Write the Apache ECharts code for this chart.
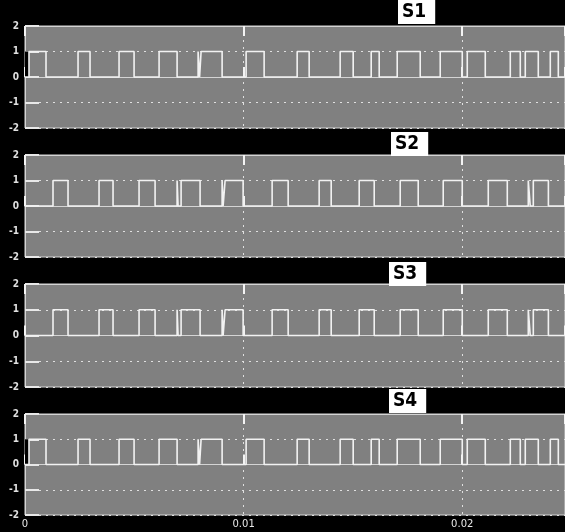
<!DOCTYPE html>
<html><head><meta charset="utf-8">
<script src="https://cdn.jsdelivr.net/npm/echarts@6/dist/echarts.min.js"></script>
<style>html,body{margin:0;padding:0;background:#000}#c{width:565px;height:532px}</style>
</head><body><div id="c"></div>
<script>
// Pulse intervals [rise, fall] in seconds for each switching signal
const s1Pulses = [[0.000183,0.000961],[0.002426,0.002975],[0.004302,0.004989],[0.006133,0.006957],[0.007918,0.007986],[0.008055,0.009016],[0.010114,0.010938],[0.012449,0.012998],[0.014416,0.015011],[0.015835,0.016201],[0.017025,0.018078],[0.018993,0.020000],[0.020229,0.021053],[0.022197,0.022654],[0.022883,0.023478],[0.024027,0.024394]];
const s2Pulses = [[0.001281,0.001968],[0.003387,0.004027],[0.005217,0.005950],[0.006957,0.007002],[0.007140,0.008009],[0.009016,0.009062],[0.009153,0.009977],[0.011304,0.012037],[0.013455,0.014005],[0.015286,0.015973],[0.017162,0.017986],[0.019130,0.020000],[0.021190,0.022060],[0.023020,0.023110],[0.023250,0.023940]];
const s3Pulses = [[0.001281,0.001968],[0.003387,0.004027],[0.005217,0.005950],[0.006957,0.007002],[0.007140,0.008009],[0.009016,0.009062],[0.009153,0.009977],[0.011304,0.012037],[0.013455,0.014005],[0.015286,0.015973],[0.017162,0.017986],[0.019130,0.020000],[0.021190,0.022060],[0.023020,0.023110],[0.023250,0.023940]];
const s4Pulses = [[0.000183,0.000961],[0.002426,0.002975],[0.004302,0.004989],[0.006133,0.006957],[0.007918,0.007986],[0.008055,0.009016],[0.010114,0.010938],[0.012449,0.012998],[0.014416,0.015011],[0.015835,0.016201],[0.017025,0.018078],[0.018993,0.020000],[0.020229,0.021053],[0.022197,0.022654],[0.022883,0.023478],[0.024027,0.024394]];
const startBlock = [0, 0.00018]; // dark block at start of S1 / S4
const titles = ['S1','S2','S3','S4'];
const xMin = 0, xMax = 0.0247, xStep = 0.01;
const yMin = -2, yMax = 2, yStep = 1;
const xTickLabels = {0:'0', 0.01:'0.01', 0.02:'0.02'};

function toSteps(pulses){
  const d=[[xMin,0]];
  pulses.forEach(p=>{d.push([p[0],0],[p[0],1],[p[1],1],[p[1],0]);});
  d.push([xMax,0]);
  return d;
}
const allPulses=[s1Pulses,s2Pulses,s3Pulses,s4Pulses];
const grids=[{top:26,height:102},{top:155,height:102},{top:284,height:103},{top:414,height:101}];
const titlePos=[{left:398,top:0},{left:391,top:132},{left:389,top:262},{left:389,top:389}];

const gridOpts=[],xAxes=[],yAxes=[],series=[],titleOpts=[];
grids.forEach((g,i)=>{
  gridOpts.push({left:25,right:0,top:g.top,height:g.height,show:true,backgroundColor:'#808080',borderColor:'#d4d4d4',borderWidth:1});
  xAxes.push({type:'value',gridIndex:i,min:xMin,max:xMax,interval:xStep,position:'bottom',
    axisLine:{show:true,lineStyle:{color:'#d4d4d4',width:1}},
    axisTick:{show:true,inside:true,length:10,lineStyle:{color:'#f4f4f4',width:2}},
    axisLabel:{show:i===3,color:'#e8e8e8',fontSize:10,fontFamily:'DejaVu Sans',margin:4,showMaxLabel:false,
      formatter:v=>xTickLabels[Math.round(v*100)/100]!==undefined?xTickLabels[Math.round(v*100)/100]:''},
    splitLine:{show:true,lineStyle:{color:'#e0e0e0',type:[2,5],width:1}}});
  xAxes.push({type:'value',gridIndex:i,min:xMin,max:xMax,interval:xStep,position:'top',
    axisLine:{show:true,lineStyle:{color:'#d4d4d4',width:1}},
    axisTick:{show:true,inside:true,length:10,lineStyle:{color:'#f4f4f4',width:2}},
    axisLabel:{show:false},splitLine:{show:false}});
  yAxes.push({type:'value',gridIndex:i,min:yMin,max:yMax,interval:yStep,
    axisLine:{show:true,lineStyle:{color:'#d4d4d4',width:1}},
    axisTick:{show:true,inside:true,length:14,lineStyle:{color:'#e8e8e8',width:2}},
    axisLabel:{color:'#e0e0e0',fontSize:10,fontWeight:'bold',fontFamily:'DejaVu Sans Condensed, DejaVu Sans',margin:6},
    splitLine:{show:true,lineStyle:{color:'#e0e0e0',type:[2,5],width:1}}});
  const s={type:'line',xAxisIndex:i*2,yAxisIndex:i,data:toSteps(allPulses[i]),showSymbol:false,
    lineStyle:{color:'#f2f2f2',width:1.6},animation:false,silent:true};
  if(i===0||i===3){
    s.markArea={silent:true,itemStyle:{color:'#000'},data:[[{xAxis:startBlock[0],yAxis:0},{xAxis:startBlock[1],yAxis:1}]]};
  }
  series.push(s);
  titleOpts.push({text:titles[i],left:titlePos[i].left,top:titlePos[i].top,backgroundColor:'#fff',padding:[1,9,1,4],
    textStyle:{color:'#000',fontWeight:'bold',fontSize:19,fontFamily:'Liberation Sans Narrow, DejaVu Sans Condensed',lineHeight:22}});
});

const chart=echarts.init(document.getElementById('c'),null,{renderer:'canvas'});
chart.setOption({backgroundColor:'#000',animation:false,title:titleOpts,grid:gridOpts,xAxis:xAxes,yAxis:yAxes,series:series});
</script></body></html>
